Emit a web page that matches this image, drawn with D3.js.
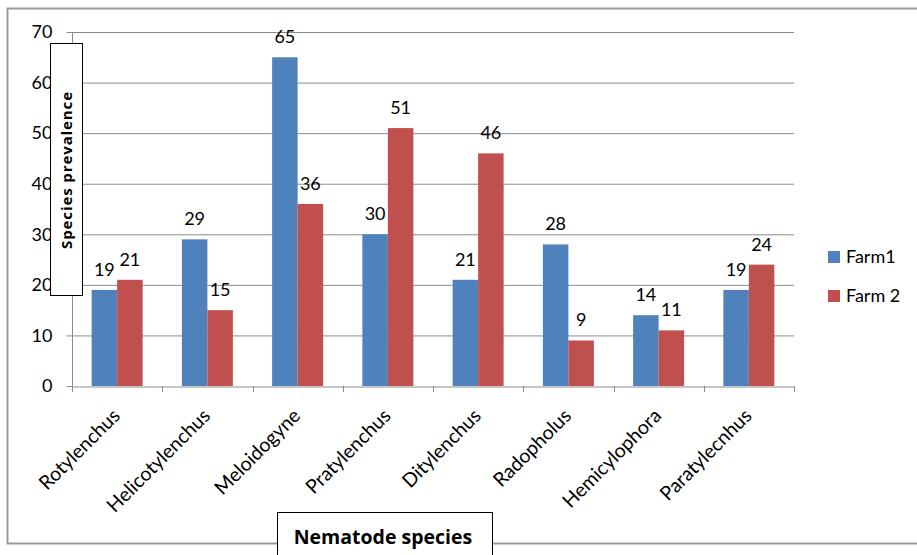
<!DOCTYPE html>
<html><head><meta charset="utf-8">
<script src="https://cdn.jsdelivr.net/npm/d3@7"></script>
<style>body{margin:0;background:#fff}svg{display:block;font-family:Lato,"Open Sans",sans-serif}</style>
</head><body>
<script>
const categories=["Rotylenchus","Helicotylenchus","Meloidogyne","Pratylenchus","Ditylenchus","Radopholus","Hemicylophora","Paratylecnhus"];
const seriesNames=["Farm1","Farm 2"];
const farm1=[19,29,65,30,21,28,14,19];
const farm2=[21,15,36,51,46,9,11,24];
const yTicks=[0,10,20,30,40,50,60,70];
const colors=["#4F81BD","#C0504D"];

const W=917,H=555;
const svg=d3.select("body").append("svg").attr("width",W).attr("height",H);
svg.append("rect").attr("x",7.5).attr("y",8.5).attr("width",W+5).attr("height",535).attr("fill","#fff").attr("stroke","#9a9a9a").attr("stroke-width",2);

const L=72,R=794,T=32,B=386;
const FS=18;
const x=d3.scaleBand().domain(categories).range([L,R]);
const y=d3.scaleLinear().domain([0,70]).range([B,T]);
const inner=d3.scaleBand().domain(seriesNames).range([0,x.bandwidth()]).paddingInner(0).paddingOuter(0.77);

// grid
svg.append("g").selectAll("line").data(yTicks.filter(d=>d>0)).join("line")
 .attr("x1",L).attr("x2",R).attr("y1",d=>y(d)+0.5).attr("y2",d=>y(d)+0.5).attr("stroke","#8c8c8c");

const data=[farm1,farm2];
const g=svg.append("g");
data.forEach((vals,si)=>{
  g.selectAll(".b"+si).data(vals).join("rect")
   .attr("x",(d,i)=>x(categories[i])+inner(seriesNames[si]))
   .attr("width",inner.bandwidth())
   .attr("y",d=>y(d)).attr("height",d=>B-y(d)).attr("fill",colors[si]);
  g.selectAll(".t"+si).data(vals).join("text")
   .attr("x",(d,i)=>x(categories[i])+inner(seriesNames[si])+inner.bandwidth()/2)
   .attr("y",d=>y(d)-14).attr("text-anchor","middle").attr("font-size",FS).attr("fill","#000").text(d=>d);
});

// y axis
const ya=svg.append("g").attr("transform",`translate(${L+0.5},0)`).call(d3.axisLeft(y).tickValues(yTicks).tickSize(6).tickPadding(14));
ya.select(".domain").attr("stroke","#8c8c8c").attr("d",`M0,${T}V${B}`);
ya.selectAll(".tick line").attr("stroke","#8c8c8c");
ya.selectAll("text").attr("font-size",FS).attr("fill","#000").attr("font-family","Lato,sans-serif");

// x axis
const xa=svg.append("g").attr("transform",`translate(0,${B+0.5})`).call(d3.axisBottom(x).tickSize(0).tickPadding(0));
xa.select(".domain").attr("stroke","#8c8c8c");
xa.selectAll(".tick text").remove();
svg.append("g").selectAll("line").data(d3.range(categories.length+1)).join("line")
 .attr("x1",i=>Math.round(L+i*x.bandwidth())+0.5).attr("x2",i=>Math.round(L+i*x.bandwidth())+0.5)
 .attr("y1",B).attr("y2",B+6).attr("stroke","#8c8c8c");
svg.append("g").selectAll("text").data(categories).join("text")
 .attr("transform",d=>`translate(${x(d)+x.bandwidth()/2+4},${B+31}) rotate(-45)`)
 .attr("text-anchor","end").attr("font-size",19.5).attr("fill","#000").text(d=>d);

// y title box
svg.append("rect").attr("x",50.5).attr("y",43.5).attr("width",32).attr("height",252).attr("fill","#fff").attr("stroke","#000").attr("stroke-width",1);
svg.append("text").attr("transform",`translate(72,170) rotate(-90)`).attr("text-anchor","middle")
 .attr("font-size",15).attr("font-weight","bold").attr("letter-spacing",0.9).attr("font-family","'Open Sans',sans-serif").text("Species prevalence");

// x title box
svg.append("rect").attr("x",277.5).attr("y",512.5).attr("width",215).attr("height",50).attr("fill","#fff").attr("stroke","#000").attr("stroke-width",1);
svg.append("text").attr("x",383).attr("y",544).attr("text-anchor","middle").attr("font-size",19.5).attr("font-weight","bold").attr("font-family","'Open Sans',sans-serif").text("Nematode species");

// legend
const lg=svg.append("g");
seriesNames.forEach((s,i)=>{
  lg.append("rect").attr("x",828).attr("y",251+i*39).attr("width",12).attr("height",12).attr("fill",colors[i]);
  lg.append("text").attr("x",846).attr("y",263+i*39).attr("font-size",FS).attr("fill","#000").text(s);
});
</script>
</body></html>
